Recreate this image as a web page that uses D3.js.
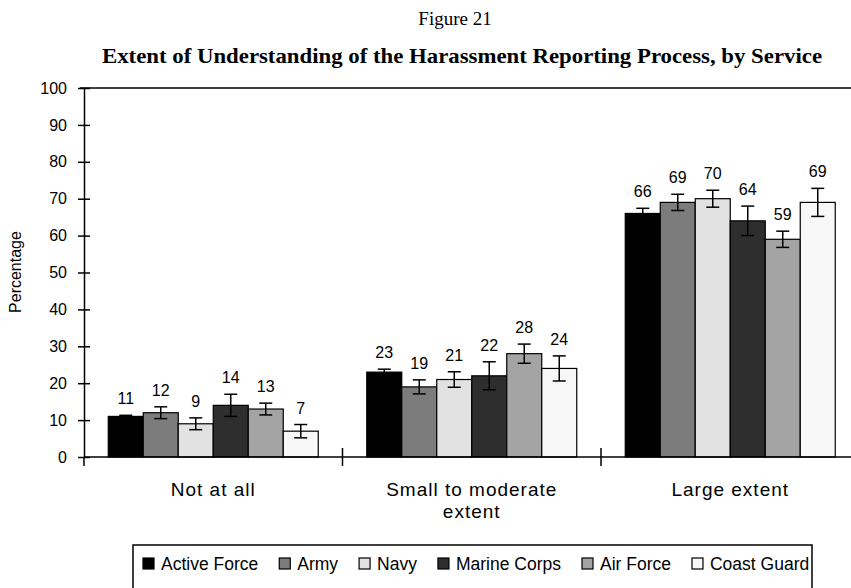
<!DOCTYPE html>
<html>
<head>
<meta charset="utf-8">
<script src="https://cdn.jsdelivr.net/npm/d3@7"></script>
<style>
  html, body { margin: 0; padding: 0; background: #fff; }
  svg { display: block; }
  text { font-family: "Liberation Sans", Arial, Helvetica, sans-serif; fill: #000; }
</style>
</head>
<body>
<svg id="chart" width="851" height="588"></svg>
<script>
// ---- Data ----
const categories = ["Not at all", "Small to moderate extent", "Large extent"];
const categoryLines = [["Not at all"], ["Small to moderate", "extent"], ["Large extent"]];
const services = ["Active Force", "Army", "Navy", "Marine Corps", "Air Force", "Coast Guard"];

const activeForce = [11, 23, 66];
const army        = [12, 19, 69];
const navy        = [9, 21, 70];
const marineCorps = [14, 22, 64];
const airForce    = [13, 28, 59];
const coastGuard  = [7, 24, 69];

// margins of error (half-width of error bar, percentage points)
const activeForceErr = [0.3, 0.8, 1.4];
const armyErr        = [1.6, 1.9, 2.2];
const navyErr        = [1.6, 2.1, 2.3];
const marineCorpsErr = [3.0, 3.8, 4.0];
const airForceErr    = [1.6, 2.6, 2.2];
const coastGuardErr  = [1.8, 3.4, 3.8];

const yTicks = [0, 10, 20, 30, 40, 50, 60, 70, 80, 90, 100];

const seriesValues = [activeForce, army, navy, marineCorps, airForce, coastGuard];
const seriesErrors = [activeForceErr, armyErr, navyErr, marineCorpsErr, airForceErr, coastGuardErr];
const fills = ["#000000", "#7c7c7c", "#e2e2e2", "#2e2e2e", "#a4a4a4", "#f8f8f8"];

// ---- Layout ----
const svg = d3.select("#chart");
const plotLeft = 84, plotRight = 851, bandEnd = 859.5;
const yTop = 88, yBottom = 457;

const x0 = d3.scaleBand().domain(categories).range([plotLeft, bandEnd]).paddingInner(0).paddingOuter(0);
const groupInner = 210;
const x1 = d3.scaleBand().domain(services).range([0, groupInner]).padding(0);
const y = d3.scaleLinear().domain([0, 100]).range([yBottom, yTop]);

// Titles
svg.append("text").attr("x", 455).attr("y", 25).attr("text-anchor", "middle")
  .style("font-family", "'Liberation Serif', 'Times New Roman', serif").style("font-size", "19px")
  .text("Figure 21");
svg.append("text").attr("x", 462).attr("y", 63).attr("text-anchor", "middle")
  .style("font-family", "'Liberation Serif', 'Times New Roman', serif").style("font-size", "22px")
  .style("font-weight", "bold")
  .attr("textLength", 720).attr("lengthAdjust", "spacingAndGlyphs")
  .text("Extent of Understanding of the Harassment Reporting Process, by Service");

// Top border
svg.append("line").attr("x1", 80).attr("x2", plotRight).attr("y1", yTop).attr("y2", yTop)
  .attr("stroke", "#000").attr("stroke-width", 1.5);

// Y axis
const yAxis = d3.axisLeft(y).tickValues(yTicks).tickSizeInner(6).tickSizeOuter(0).tickPadding(11);
const gy = svg.append("g").attr("transform", `translate(${plotLeft},0)`).call(yAxis);
gy.select(".domain").attr("stroke", "#000").attr("stroke-width", 1.5);
gy.selectAll(".tick line").attr("x1", 6).attr("stroke", "#000").attr("stroke-width", 1.5);
gy.selectAll(".tick text").style("font-size", "16px").style("font-family", "'Liberation Sans', Arial, sans-serif");

svg.append("text").attr("transform", `translate(21,272) rotate(-90)`).attr("text-anchor", "middle")
  .style("font-size", "16px").text("Percentage");

// Bars
const groups = svg.append("g").selectAll("g").data(categories).join("g")
  .attr("transform", d => `translate(${x0(d) + (x0.bandwidth() - groupInner) / 2},0)`);

services.forEach((s, si) => {
  groups.append("rect")
    .attr("x", x1(s))
    .attr("width", x1.bandwidth())
    .attr("y", (d, ci) => y(seriesValues[si][ci]))
    .attr("height", (d, ci) => y(0) - y(seriesValues[si][ci]))
    .attr("fill", fills[si]).attr("stroke", "#000").attr("stroke-width", 1.2);
});

// Error bars and labels
services.forEach((s, si) => {
  const cx = x1(s) + x1.bandwidth() / 2;
  groups.each(function (d, ci) {
    const g = d3.select(this);
    const v = seriesValues[si][ci], e = seriesErrors[si][ci];
    const top = y(v + e), bot = y(v - e);
    g.append("line").attr("x1", cx).attr("x2", cx).attr("y1", top).attr("y2", bot)
      .attr("stroke", "#000").attr("stroke-width", 1.5);
    [top, bot].forEach(yy => g.append("line").attr("x1", cx - 6.5).attr("x2", cx + 6.5)
      .attr("y1", yy).attr("y2", yy).attr("stroke", "#000").attr("stroke-width", 1.5));
    g.append("text").attr("x", cx).attr("y", Math.min(top, y(v)) - 11)
      .attr("text-anchor", "middle").style("font-size", "16px").text(v);
  });
});

// X axis
svg.append("line").attr("x1", plotLeft).attr("x2", plotRight).attr("y1", yBottom).attr("y2", yBottom)
  .attr("stroke", "#000").attr("stroke-width", 1.5);
categories.forEach(c => {
  const bx = x0(c);
  svg.append("line").attr("x1", bx).attr("x2", bx).attr("y1", bx === plotLeft ? yBottom : yBottom - 9).attr("y2", yBottom + 9)
    .attr("stroke", "#000").attr("stroke-width", 1.5);
});
categories.forEach((c, ci) => {
  const t = svg.append("text").attr("x", x0(c) + x0.bandwidth() / 2).attr("y", 496)
    .attr("text-anchor", "middle").style("font-size", "19px").style("letter-spacing", "1px");
  categoryLines[ci].forEach((ln, li) => {
    t.append("tspan").attr("x", x0(c) + x0.bandwidth() / 2).attr("dy", li === 0 ? 0 : 22).text(ln);
  });
});

// Legend
svg.append("rect").attr("x", 133).attr("y", 545).attr("width", 679).attr("height", 46)
  .attr("fill", "none").attr("stroke", "#000").attr("stroke-width", 1.5);
let lx = 143;
services.forEach((s, si) => {
  svg.append("rect").attr("x", lx).attr("y", 558).attr("width", 11).attr("height", 11)
    .attr("fill", fills[si]).attr("stroke", "#000").attr("stroke-width", 1.2);
  const t = svg.append("text").attr("x", lx + 18).attr("y", 570).style("font-size", "17.5px").text(s);
  const w = t.node().getComputedTextLength();
  lx += 18 + w + 21;
});
</script>
</body>
</html>
